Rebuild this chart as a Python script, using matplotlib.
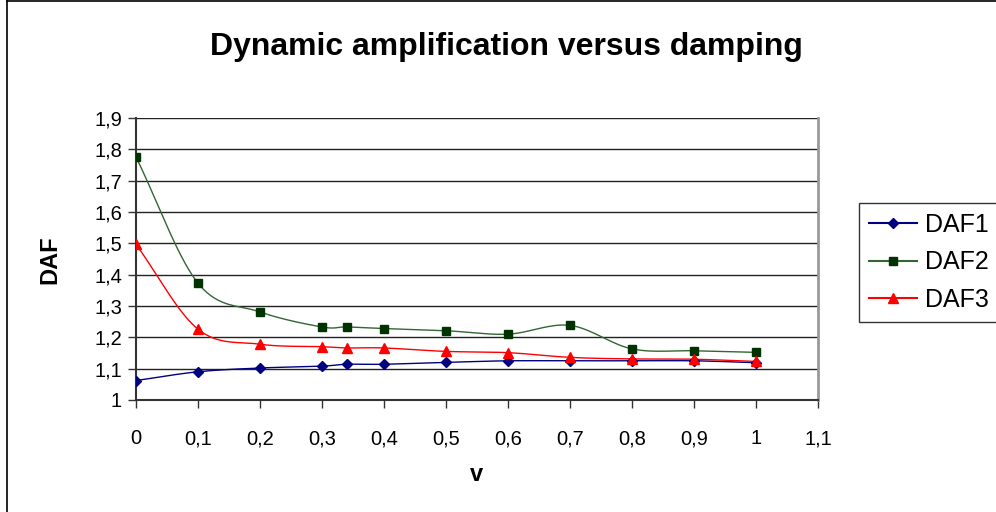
import numpy as np
import matplotlib
matplotlib.use("Agg")
import matplotlib.pyplot as plt
from matplotlib.lines import Line2D

plt.rcParams['font.family'] = ['Liberation Sans', 'DejaVu Sans']

v = [0, 0.1, 0.2, 0.3, 0.34, 0.4, 0.5, 0.6, 0.7, 0.8, 0.9, 1.0]
daf1 = [1.062, 1.090, 1.102, 1.108, 1.114, 1.114, 1.120, 1.125, 1.125, 1.125, 1.125, 1.119]
daf2 = [1.776, 1.373, 1.281, 1.233, 1.233, 1.228, 1.221, 1.210, 1.238, 1.163, 1.157, 1.152]
daf3 = [1.497, 1.226, 1.178, 1.170, 1.166, 1.166, 1.155, 1.151, 1.136, 1.131, 1.130, 1.123]

yticks = [1, 1.1, 1.2, 1.3, 1.4, 1.5, 1.6, 1.7, 1.8, 1.9]
xticks = [0, 0.1, 0.2, 0.3, 0.4, 0.5, 0.6, 0.7, 0.8, 0.9, 1.0, 1.1]


def smooth(x, y, n=20):
    # catmull-rom like Excel's smoothed line, only for drawing
    x = np.asarray(x, float)
    y = np.asarray(y, float)
    px = np.concatenate([[2 * x[0] - x[1]], x, [2 * x[-1] - x[-2]]])
    py = np.concatenate([[2 * y[0] - y[1]], y, [2 * y[-1] - y[-2]]])
    xs, ys = [], []
    t = np.linspace(0, 1, n, endpoint=False)
    for i in range(1, len(px) - 2):
        for p, out in ((px, xs), (py, ys)):
            p0, p1, p2, p3 = p[i - 1], p[i], p[i + 1], p[i + 2]
            out.extend(0.5 * (2 * p1 + (-p0 + p2) * t
                              + (2 * p0 - 5 * p1 + 4 * p2 - p3) * t ** 2
                              + (-p0 + 3 * p1 - 3 * p2 + p3) * t ** 3))
    xs.append(x[-1])
    ys.append(y[-1])
    return xs, ys


def fmt(val):
    s = ('%.1f' % val).rstrip('0').rstrip('.')
    return s.replace('.', ',')


fig = plt.figure(figsize=(9.96, 5.12), dpi=100)
ax = fig.add_axes([0.1365, 0.2188, 0.6847, 0.5508])

series = [
    (daf1, 'DAF1', '#000080', '#000080', 'D', 5),
    (daf2, 'DAF2', '#336633', '#003300', 's', 6),
    (daf3, 'DAF3', '#ff0000', '#ff0000', '^', 7),
]
handles = []
for y, name, lc, mc, mk, ms in series:
    sx, sy = smooth(v, y)
    ax.plot(sx, sy, color=lc, lw=1, zorder=3)
    ax.plot(v, y, ls='none', marker=mk, ms=ms, color=mc, zorder=4)
    handles.append(Line2D([], [], color=lc, lw=1.5, marker=mk, ms=ms,
                          markerfacecolor=mc, markeredgecolor=mc, alpha=1))

ax.set_xlim(0, 1.1)
ax.set_ylim(1, 1.9)
ax.set_xticks(xticks)
ax.set_yticks(yticks)
ax.set_xticklabels([fmt(t) for t in xticks], fontsize=14.5)
ax.set_yticklabels([fmt(t) for t in yticks], fontsize=14.5)
ax.tick_params(axis='both', direction='out', length=6, width=1, color='#333333')
ax.tick_params(axis='x', pad=15)
ax.tick_params(axis='y', pad=4)
ax.yaxis.grid(True, color='#222222', lw=1)
ax.set_axisbelow(True)
for side in ['left', 'bottom']:
    ax.spines[side].set_color('#333333')
    ax.spines[side].set_linewidth(1.5)
ax.spines['top'].set_visible(False)
ax.spines['right'].set_color('#999999')
ax.spines['right'].set_linewidth(2)

ax.set_xlabel('v', fontsize=17, fontweight='bold', va='center')
ax.set_ylabel('DAF', fontsize=17, fontweight='bold', va='center')
ax.xaxis.set_label_coords(0.5, -0.266)
ax.yaxis.set_label_coords(-0.126, 0.496)
fig.text(0.508, 0.908, 'Dynamic amplification versus damping',
         ha='center', va='center', fontsize=23, fontweight='bold')

leg = fig.legend(handles, ['DAF1', 'DAF2', 'DAF3'], loc='upper left',
                 bbox_to_anchor=(0.8625, 0.6035), fontsize=18, frameon=True,
                 fancybox=False, edgecolor='black', handlelength=1.95,
                 borderpad=0.38, labelspacing=0.55, handletextpad=0.32,
                 borderaxespad=0)
leg.get_frame().set_linewidth(1)

# outer chart border (left and top visible)
fig.add_artist(Line2D([0.007, 0.007], [0, 0.998], color='black', lw=1.2,
                      transform=fig.transFigure))
fig.add_artist(Line2D([0.007, 1], [0.998, 0.998], color='black', lw=1.2,
                      transform=fig.transFigure))

fig.savefig('out.png', dpi=100)
